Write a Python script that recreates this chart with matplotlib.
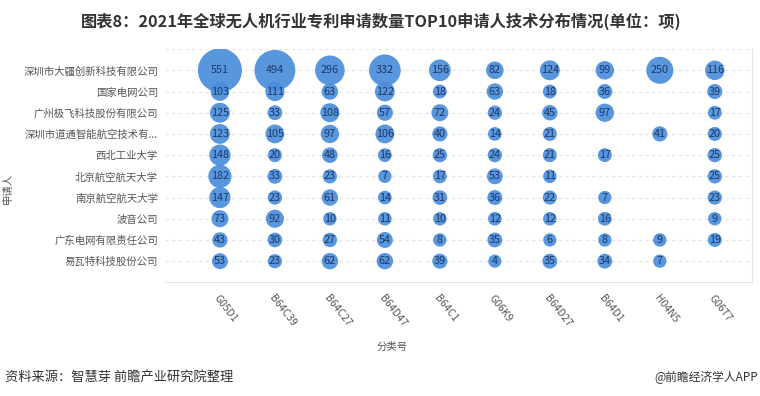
import numpy as np
import matplotlib
matplotlib.use('Agg')
import matplotlib.pyplot as plt

plt.rcParams['font.family'] = ['Noto Sans CJK SC', 'DejaVu Sans']

# applicants (rows, top to bottom) and classification codes (columns)
applicants = ['深圳市大疆创新科技有限公司', '国家电网公司', '广州极飞科技股份有限公司',
              '深圳市道通智能航空技术有...', '西北工业大学', '北京航空航天大学',
              '南京航空航天大学', '波音公司', '广东电网有限责任公司', '易瓦特科技股份公司']
codes = ['G05D1', 'B64C39', 'B64C27', 'B64D47', 'B64C1', 'G06K9',
         'B64D27', 'B64D1', 'H04N5', 'G06T7']

nan = np.nan
dji = [551, 494, 296, 332, 156, 82, 124, 99, 250, 116]
sgcc = [103, 111, 63, 122, 18, 63, 18, 36, nan, 39]
xag = [125, 33, 108, 57, 72, 24, 45, 97, nan, 17]
autel = [123, 105, 97, 106, 40, 14, 21, nan, 41, 20]
nwpu = [148, 20, 48, 16, 25, 24, 21, 17, nan, 25]
buaa = [182, 33, 23, 7, 17, 53, 11, nan, nan, 25]
nuaa = [147, 23, 61, 14, 31, 36, 22, 7, nan, 23]
boeing = [73, 92, 10, 11, 10, 12, 12, 16, nan, 9]
gdgrid = [43, 30, 27, 54, 8, 35, 6, 8, 9, 19]
ewatt = [53, 23, 62, 62, 39, 4, 35, 34, 7, nan]

rows = [dji, sgcc, xag, autel, nwpu, buaa, nuaa, boeing, gdgrid, ewatt]

fig = plt.figure(figsize=(7.6, 3.96), dpi=100)
ax = fig.add_axes([0.217, 0.288, 0.772, 0.588])

for i, row in enumerate(rows):
    for j, v in enumerate(row):
        if np.isnan(v):
            continue
        d = (12.9 + 0.0565 * v) * 0.72
        ax.scatter(j, i, s=d ** 2, color='#4a8ddc', alpha=0.92,
                   edgecolors='none', zorder=3)
        ax.text(j, i, str(int(v)), ha='center', va='center', fontsize=7.8,
                color='#1f3866', zorder=4)

ax.set_xlim(-1, 9.67)
ax.set_ylim(9.98, -1)
ax.set_xticks(range(len(codes)))
ax.set_xticklabels(codes, rotation=-52, ha='left', va='top',
                   rotation_mode='anchor', fontsize=7.5, color='#555555')
ax.set_yticks(range(len(applicants)))
ax.set_yticklabels(applicants, fontsize=7.5, color='#555555')
ax.tick_params(length=0, pad=5)
ax.tick_params(axis='x', pad=8)

for y in list(range(-1, 10)):
    ax.axhline(y, color='#e3e3e3', lw=0.8, ls=(0, (3, 3)), zorder=1)

for s in ['top', 'left']:
    ax.spines[s].set_visible(False)
for s in ['bottom', 'right']:
    ax.spines[s].set_color('#e6e6e6')

fig.text(0.011, 0.525, '申请人', rotation=90, ha='center', va='center',
         fontsize=7.5, color='#555555')
fig.text(0.516, 0.123, '分类号', ha='center', va='center', fontsize=7.5,
         color='#555555')

fig.text(0.502, 0.945, '图表8：2021年全球无人机行业专利申请数量TOP10申请人技术分布情况(单位：项)',
         ha='center', va='center', fontsize=11.7, fontweight='bold', color='#333333')
fig.text(0.006, 0.048, '资料来源：智慧芽 前瞻产业研究院整理', ha='left', va='center',
         fontsize=9.5, color='#333333')
fig.text(0.997, 0.048, '@前瞻经济学人APP', ha='right', va='center',
         fontsize=8.5, color='#333333')

fig.savefig('out.png', dpi=100)
